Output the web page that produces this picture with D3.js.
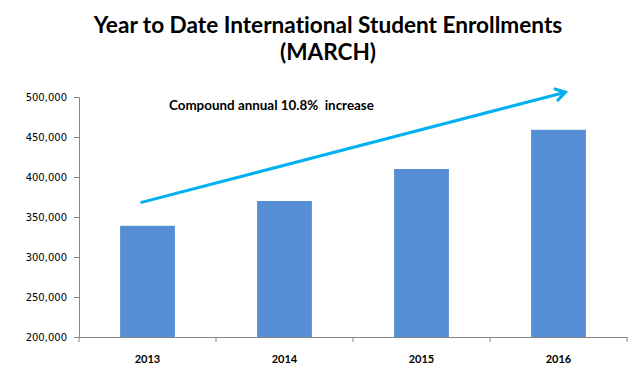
<!DOCTYPE html>
<html><head><meta charset="utf-8">
<script src="https://cdn.jsdelivr.net/npm/d3@7"></script>
<style>body{margin:0;background:#fff}svg{display:block}text{font-variant-ligatures:none;font-feature-settings:"liga" 0}</style>
</head><body>
<script>
const categories = ["2013","2014","2015","2016"];
const enrollments = [339000, 370000, 410000, 459000];
const yTicks = [200000,250000,300000,350000,400000,450000,500000];
const titleLines = ["Year to Date International Student Enrollments","(MARCH)"];
const annotationText = "Compound annual 10.8%  increase";
const arrowValues = [368000, 506000];

const W=640,H=373;
const m={left:79,right:13,top:97,bottom:36};
const svg=d3.select("body").append("svg").attr("width",W).attr("height",H);
const x=d3.scaleBand().domain(categories).range([m.left,W-m.right]).paddingInner(0.6).paddingOuter(0.3);
const y=d3.scaleLinear().domain([200000,500000]).range([H-m.bottom,m.top]);

// title
svg.append("g").selectAll("text").data(titleLines).join("text")
  .attr("x",328).attr("y",(d,i)=>33+i*27).attr("text-anchor","middle")
  .attr("font-family","Lato, sans-serif").attr("font-weight","bold").attr("font-size",22.6)
  .attr("fill","#000").text(d=>d);

// bars
svg.append("g").selectAll("rect").data(enrollments).join("rect")
  .attr("x",(d,i)=>x(categories[i])).attr("width",x.bandwidth())
  .attr("y",d=>y(d)).attr("height",d=>y(200000)-y(d)).attr("fill","#558ED5");

// y axis
const ya=svg.append("g").attr("transform",`translate(${m.left},0)`)
  .call(d3.axisLeft(y).tickValues(yTicks).tickFormat(d3.format(",")).tickSize(5).tickPadding(7));
ya.select(".domain").attr("stroke","#868686");
ya.selectAll(".tick line").attr("stroke","#868686");
ya.selectAll("text").attr("font-family","DejaVu Sans, sans-serif").attr("font-size",10).attr("fill","#000");

// x axis
const xa=svg.append("g").attr("transform",`translate(0,${H-m.bottom})`)
  .call(d3.axisBottom(x).tickSize(0).tickPadding(18));
xa.select(".domain").attr("stroke","#868686");
xa.selectAll("text").attr("font-family","Lato, sans-serif").attr("font-weight","bold").attr("font-size",11).attr("fill","#000");
const step=x.step();
const bounds=d3.range(categories.length+1).map(i=>m.left+i*step);
xa.selectAll(".sep").data(bounds).join("line").attr("class","sep")
  .attr("x1",d=>d).attr("x2",d=>d).attr("y1",0).attr("y2",5).attr("stroke","#868686");

// arrow
const x0=x(categories[0])+x.bandwidth()/2-7, x1=x(categories[3])+x.bandwidth()/2+7;
const ya0=y(arrowValues[0]), ya1=y(arrowValues[1]);
svg.append("line").attr("x1",x0).attr("y1",ya0).attr("x2",x1).attr("y2",ya1)
  .attr("stroke","#00B0F0").attr("stroke-width",3);
const ang=Math.atan2(ya1-ya0,x1-x0);
const hl=11, ha=0.55;
const p1=[x1-hl*Math.cos(ang-ha), ya1-hl*Math.sin(ang-ha)];
const p2=[x1-hl*Math.cos(ang+ha), ya1-hl*Math.sin(ang+ha)];
svg.append("path").attr("d",`M${p1}L${x1},${ya1}L${p2}`).attr("fill","none")
  .attr("stroke","#00B0F0").attr("stroke-width",3).attr("stroke-linejoin","miter").attr("stroke-linecap","round");

// annotation
svg.append("text").attr("x",169).attr("y",110).attr("xml:space","preserve").style("white-space","pre")
  .attr("font-family","Lato, sans-serif").attr("font-weight","bold").attr("font-size",13.4)
  .attr("fill","#000").text(annotationText);
</script>
</body></html>
